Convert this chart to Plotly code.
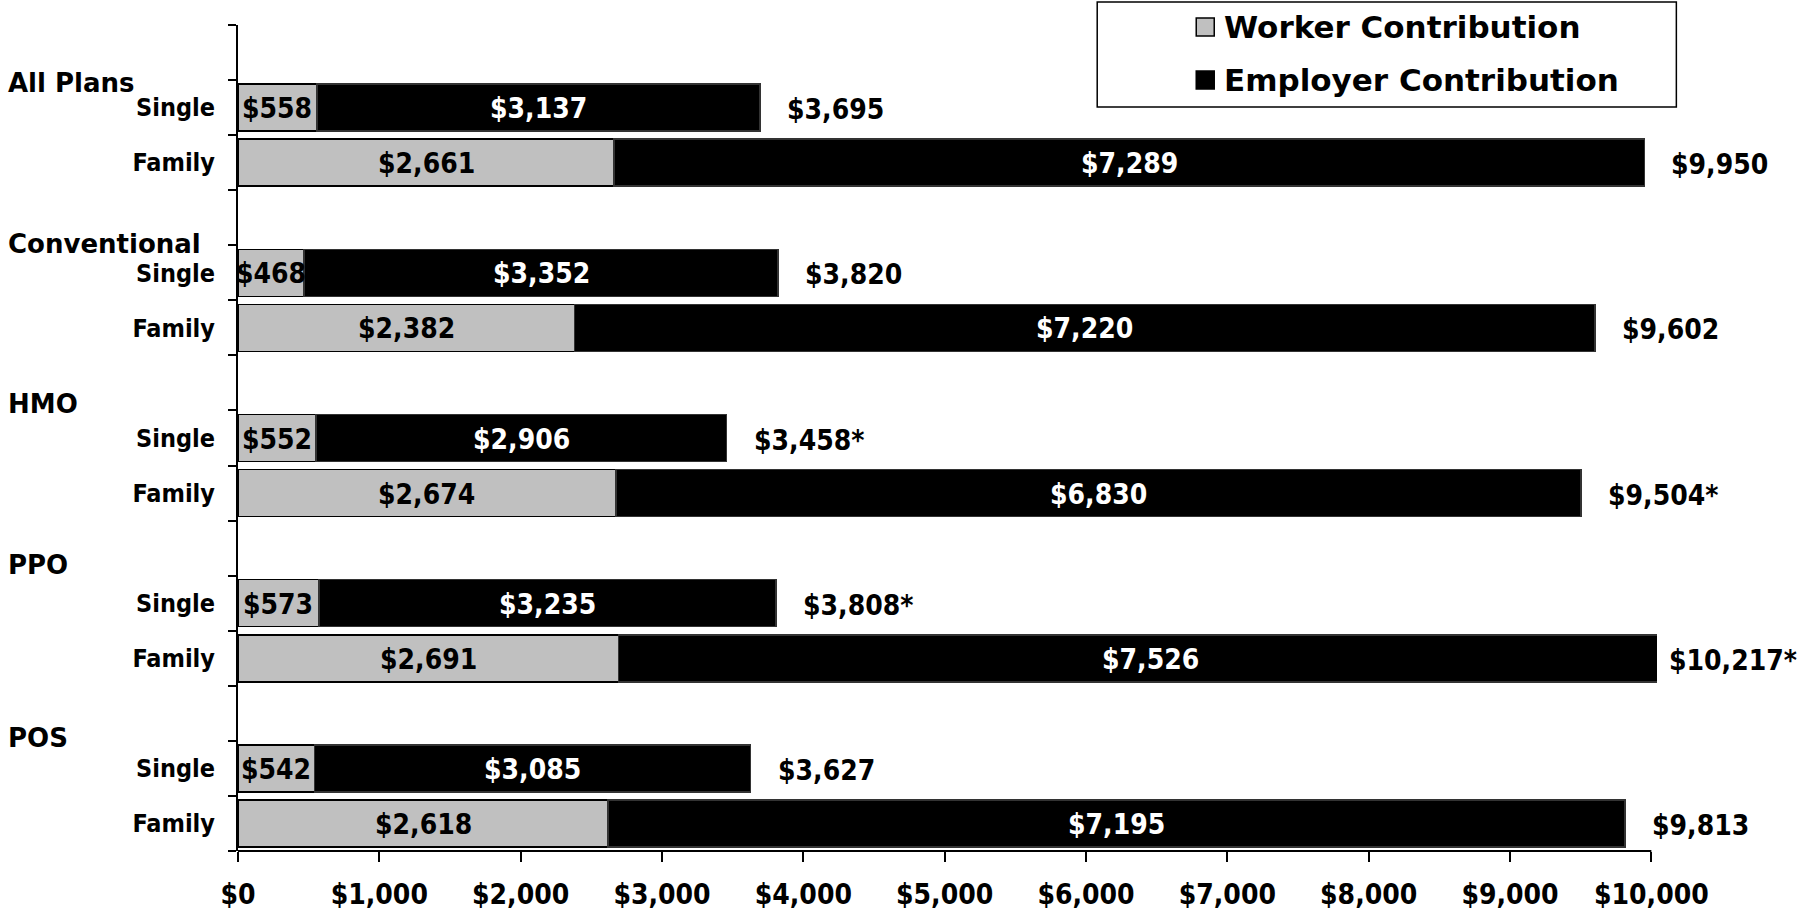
import plotly.graph_objects as go

groups = ["All Plans", "Conventional", "HMO", "PPO", "POS"]
worker_single = [558, 468, 552, 573, 542]
employer_single = [3137, 3352, 2906, 3235, 3085]
worker_family = [2661, 2382, 2674, 2691, 2618]
employer_family = [7289, 7220, 6830, 7526, 7195]
star_single = [False, False, True, True, False]
star_family = [False, False, True, True, False]
x_ticks = [0, 1000, 2000, 3000, 4000, 5000, 6000, 7000, 8000, 9000, 10000]

FONT = "DejaVu Sans"
COND = "DejaVu Sans Condensed"
W, H = 1804, 915
L, T, B = 238, 25, 64
X_MAX = 10040
PX_PER_UNIT = 1413 / 10000
plot_w = PX_PER_UNIT * X_MAX
R = W - L - plot_w
plot_h = H - T - B

def xp(px):
    return (px - L) / plot_w

def yp(py):
    return (H - B - py) / plot_h

ypos, worker, employer, labels, stars = [], [], [], [], []
for k in range(len(groups)):
    ypos += [3 * k + 1, 3 * k + 2]
    worker += [worker_single[k], worker_family[k]]
    employer += [employer_single[k], employer_family[k]]
    labels += ["Single", "Family"]
    stars += [star_single[k], star_family[k]]
totals = [w + e for w, e in zip(worker, employer)]

def money(v):
    return "${:,}".format(v)

fig = go.Figure()
fig.add_trace(go.Bar(
    name="Worker Contribution", y=ypos, x=worker, orientation="h",
    marker=dict(color="#C0C0C0", line=dict(color="black", width=1.5)),
    showlegend=False, hoverinfo="x",
))
fig.add_trace(go.Bar(
    name="Employer Contribution", y=ypos, x=employer, orientation="h",
    marker=dict(color="#000000", line=dict(color="#333333", width=1.5)),
    showlegend=False, hoverinfo="x",
))

annotations = []
# inside segment labels
for w, e, yv in zip(worker, employer, ypos):
    annotations.append(dict(
        x=w / 2, y=yv, xref="x", yref="y", text=money(w), showarrow=False,
        xanchor="center", yanchor="middle", yshift=-1,
        font=dict(family=COND, size=28, color="black", weight="bold"),
    ))
    annotations.append(dict(
        x=w + e / 2, y=yv, xref="x", yref="y", text=money(e), showarrow=False,
        xanchor="center", yanchor="middle", yshift=-1,
        font=dict(family=COND, size=28, color="white", weight="bold"),
    ))
# totals
for t, yv, s in zip(totals, ypos, stars):
    annotations.append(dict(
        x=min(t, X_MAX), y=yv, xref="x", yref="y", text=money(t) + ("*" if s else ""),
        showarrow=False, xanchor="left", yanchor="middle",
        xshift=10 if t > X_MAX else 25, yshift=-2,
        font=dict(family=COND, size=28, color="black", weight="bold"),
    ))
header_pos = [0.56, 3.47, 6.39, 9.30, 12.45]
for g, hy in zip(groups, header_pos):
    annotations.append(dict(
        x=xp(6), y=hy, xref="paper", yref="y", text=g,
        showarrow=False, xanchor="left", yanchor="middle",
        font=dict(family=FONT, size=26, color="black", weight="bold"),
    ))
legend_items = [("Worker Contribution", "#C0C0C0", 27), ("Employer Contribution", "#000000", 80)]
shapes = [
    dict(type="rect", xref="paper", yref="paper", x0=xp(1097), x1=xp(1676), y0=yp(107), y1=yp(2),
         line=dict(color="black", width=1.5), fillcolor="white", layer="above"),
    dict(type="line", xref="x", yref="paper", x0=0, x1=x_ticks[-1], y0=0, y1=0,
         line=dict(color="black", width=2)),
]
for name, col, cy in legend_items:
    shapes.append(dict(type="rect", xref="paper", yref="paper", x0=xp(1196), x1=xp(1214),
                       y0=yp(cy + 9), y1=yp(cy - 9), line=dict(color="black", width=1.5),
                       fillcolor=col, layer="above"))
    annotations.append(dict(
        x=xp(1222), y=yp(cy), xref="paper", yref="paper", text=name, showarrow=False,
        xanchor="left", yanchor="middle",
        font=dict(family=FONT, size=31, color="black", weight="bold"),
    ))

fig.update_layout(
    width=W, height=H, barmode="stack", bargap=0.146,
    margin=dict(l=L, r=R, t=T, b=B, autoexpand=False),
    paper_bgcolor="white", plot_bgcolor="white",
    font=dict(family=FONT, size=24, color="black"),
    annotations=annotations, shapes=shapes,
    xaxis=dict(
        range=[0, X_MAX], tickvals=x_ticks, ticktext=[money(v) for v in x_ticks],
        ticks="outside", ticklen=10, tickwidth=2, tickcolor="black",
        showline=False, showgrid=False, zeroline=False,
        tickfont=dict(family=COND, size=28, color="black", weight="bold"),
        ticklabelstandoff=8,
    ),
    yaxis=dict(
        range=[14.5, -0.5], tickvals=ypos, ticktext=labels, ticks="",
        showline=True, linecolor="black", linewidth=2, showgrid=False, zeroline=False,
        tickfont=dict(family=COND, size=25, color="black", weight="bold"),
        ticklabelstandoff=16,
        minor=dict(tickmode="array", tickvals=[i - 0.5 for i in range(16)], ticks="outside",
                   ticklen=8, tickwidth=2, tickcolor="black", showgrid=False),
    ),
)
fig.write_html("out.html", config={"displayModeBar": False},
               post_script="document.body.style.margin='0';")
